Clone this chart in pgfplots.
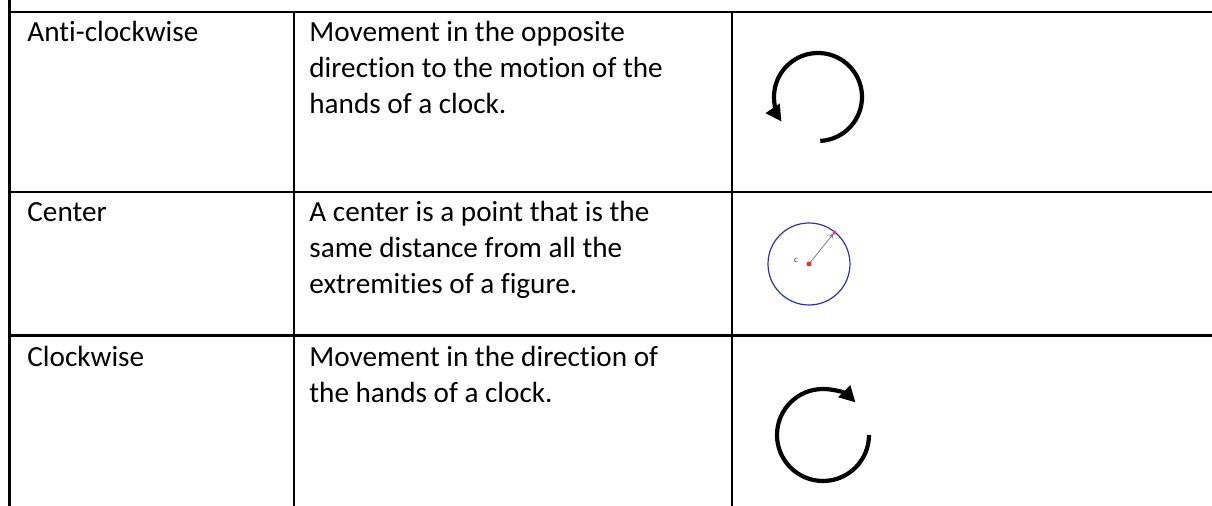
\documentclass[border=0pt]{standalone}
\usepackage{fontspec}
\setmainfont{Carlito}[Ligatures=NoCommon]
\usepackage{pgfplots}
\pgfplotsset{compat=1.18}
\usetikzlibrary{arrows.meta,calc}

% one axis unit = one pixel of the reference = 0.5pt, y counted upwards
\definecolor{ringblue}{RGB}{52,48,170}
\definecolor{dotred}{RGB}{225,50,50}
\definecolor{dotpink}{RGB}{220,60,150}

\begin{document}
\begin{tikzpicture}[
    cell/.style={anchor=base west, inner sep=0pt, font=\fontsize{14.6pt}{17.7pt}\selectfont},
]
\begin{axis}[
    width=606pt, height=253pt,
    scale only axis,
    xmin=0, xmax=1212,
    ymin=0, ymax=506,
    hide axis,
    clip=true,
]

% table rules
\addplot[black, line width=1.4pt] coordinates {(9.5,506) (9.5,0)};
\addplot[black, line width=1.4pt] coordinates {(9.5,494) (1212,494)};
\addplot[black, line width=1.4pt] coordinates {(9.5,314) (1212,314)};
\addplot[black, line width=1.4pt] coordinates {(9.5,170.5) (1212,170.5)};
\addplot[black, line width=1.4pt] coordinates {(294,494) (294,0)};
\addplot[black, line width=1.4pt] coordinates {(732,494) (732,0)};

% row 1
\node[cell] at (axis cs:27,464) {Anti-clockwise};
\node[cell] at (axis cs:309,464) {Movement in the opposite};
\node[cell] at (axis cs:309,428) {direction to the motion of the};
\node[cell] at (axis cs:309,392) {hands of a clock.};
\draw[black, line width=2.1pt, -{Triangle[length=8pt,width=8pt]}]
    ($(axis cs:818,409)+(-87:22pt)$) arc[start angle=-87, end angle=214, radius=22pt];

% row 2
\node[cell] at (axis cs:27,284) {Center};
\node[cell] at (axis cs:309,284) {A center is a point that is the};
\node[cell] at (axis cs:309,248) {same distance from all the};
\node[cell] at (axis cs:309,212) {extremities of a figure.};
\draw[ringblue, line width=0.6pt] (axis cs:809,242) circle[radius=20.5pt];
\draw[gray, line width=0.4pt, -{Stealth[length=3pt,width=2.5pt]}]
    (axis cs:809,242) -- (axis cs:834,273);
\fill[dotred] (axis cs:809,242) circle[radius=1.2pt];
\fill[dotpink] (axis cs:834.5,273.5) circle[radius=1pt];
\node[ringblue, inner sep=0pt, font=\fontsize{4.5pt}{5pt}\selectfont] at (axis cs:796,246) {c};

% row 3
\node[cell] at (axis cs:27,139) {Clockwise};
\node[cell] at (axis cs:309,139) {Movement in the direction of};
\node[cell] at (axis cs:309,103) {the hands of a clock.};
\draw[black, line width=2.1pt, -{Triangle[length=8pt,width=8pt]}]
    ($(axis cs:823,71)+(0:23pt)$) arc[start angle=0, end angle=-315, radius=23pt];

\end{axis}
\pgfresetboundingbox
\path[use as bounding box] (current axis.south west) rectangle (current axis.north east);
\end{tikzpicture}
\end{document}
